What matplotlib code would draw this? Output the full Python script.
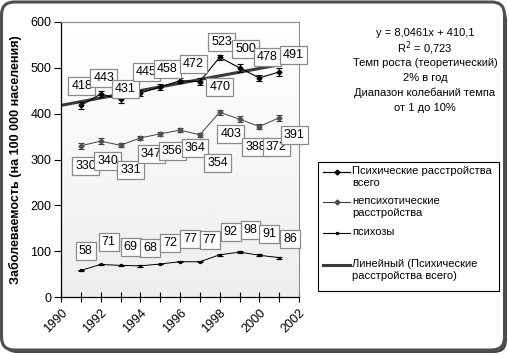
import numpy as np
import matplotlib
matplotlib.use('Agg')
import matplotlib.pylab as plt
from matplotlib.patches import FancyBboxPatch, Rectangle
from matplotlib.lines import Line2D
from matplotlib.transforms import IdentityTransform

plt.rcParams['font.family'] = ['Liberation Sans', 'DejaVu Sans']

# data (per 100 000 population)
years = [1991, 1992, 1993, 1994, 1995, 1996, 1997, 1998, 1999, 2000, 2001]
total = [418, 443, 431, 445, 458, 472, 470, 523, 500, 478, 491]
neurotic = [330, 340, 331, 347, 356, 364, 354, 403, 388, 372, 391]
psychoses = [58, 71, 69, 68, 72, 77, 77, 92, 98, 91, 86]
total_err = [8, 6, 7, 6, 6, 6, 7, 6, 9, 7, 8]
neurotic_err = [6, 6, 4, 5, 5, 5, 4, 5, 6, 5, 6]
psychoses_err = [2, 1, 1, 2, 1, 1, 1, 2, 3, 2, 2]
trend_years = [1990, 2001]
slope, intercept = 8.0461, 410.1

legend_labels = ['Психические расстройства\nвсего',
                 'непсихотические\nрасстройства',
                 'психозы',
                 'Линейный (Психические\nрасстройства всего)']
info_lines = ['y = 8,0461x + 410,1', 'R$^2$ = 0,723',
              'Темп роста (теоретический)', '2% в год',
              'Диапазон колебаний темпа', 'от 1 до 10%']

# label offsets in pixels (dx, dy up)
total_off = [(1, 19), (3, 16), (5, 10), (6, 21), (7, 18), (13, 17), (20, -5),
             (2, 15), (6, 19), (8, 21), (14, 17)]
neuro_off = [(5, -20), (7, -20), (10, -25), (11, -16), (12, -17), (15, -18),
             (18, -28), (11, -22), (16, -28), (17, -20), (15, -17)]
psy_off = [(5, 19), (8, 22), (10, 18), (10, 18), (10, 21), (10, 23), (10, 22),
           (11, 23), (11, 22), (10, 21), (11, 19)]

W, H = 509, 355
fig = plt.figure(figsize=(W/100, H/100), dpi=100)

def fx(x):
    return x/W

def fy(y):
    return 1 - y/H

# outer rounded frame with shadow
fig.patches.append(FancyBboxPatch((4, 2), 503, 346, boxstyle='round,pad=0,rounding_size=13',
                                  fc='#474747', ec='none', transform=IdentityTransform(), zorder=-3))
fig.patches.append(FancyBboxPatch((1.5, 5), 503, 348, boxstyle='round,pad=0,rounding_size=13',
                                  fc='white', ec='#4f4f4f', lw=2.2, transform=IdentityTransform(), zorder=-2))

ax = fig.add_axes([fx(61), fy(297), fx(238), 275/H])

# gradient background of the plot area
grad = np.linspace(0.93, 1.0, 100)[:, None]
ax.imshow(grad, extent=[0, 1, 0, 1], transform=ax.transAxes, aspect='auto',
          cmap='gray', vmin=0, vmax=1, origin='lower', zorder=0)

# trend line
tx = np.array(trend_years)
ax.plot(tx, intercept + slope*(tx - 1989), color='#3a3a3a', lw=2.2, zorder=2)

ax.errorbar(years, total, yerr=total_err, color='black', lw=0.8, marker='D', ms=2.5,
            capsize=2.5, elinewidth=0.8, capthick=0.8, zorder=3)
ax.errorbar(years, neurotic, yerr=neurotic_err, color='#404040', lw=0.7, marker='D', ms=2.5,
            mfc='#505050', mec='#505050', capsize=2.5, elinewidth=0.7, capthick=0.8, zorder=3)
ax.errorbar(years, psychoses, yerr=psychoses_err, color='black', lw=0.7, marker='s', ms=1.3,
            capsize=2.5, elinewidth=0.7, capthick=0.8, zorder=3)

box = dict(boxstyle='square,pad=0.24', fc='white', ec='#8a8a8a', lw=0.9)
for vals, offs in [(total, total_off), (neurotic, neuro_off), (psychoses, psy_off)]:
    for yr, v, (dx, dy) in zip(years, vals, offs):
        ax.annotate(str(v), (yr, v), xytext=(dx, dy), textcoords='offset pixels',
                    ha='center', va='center', fontsize=9, bbox=box, zorder=5,
                    annotation_clip=False)

ax.set_xlim(1990, 2002)
ax.set_ylim(0, 600)
ax.set_yticks(np.arange(0, 601, 100))
ax.set_xticks(np.arange(1990, 2003, 1), minor=True)
ax.set_xticks(np.arange(1990, 2003, 2))
ax.tick_params(axis='y', direction='out', length=5, width=0.8, labelsize=9, pad=2)
ax.tick_params(axis='x', which='both', direction='inout', length=7, width=0.8, labelsize=9)
plt.setp(ax.get_xticklabels(), rotation=45, ha='right', va='top', rotation_mode='anchor')
for s in ['top', 'right']:
    ax.spines[s].set_color('#8c8c8c')
    ax.spines[s].set_linewidth(0.8)
for s in ['left', 'bottom']:
    ax.spines[s].set_linewidth(0.9)
ax.set_ylabel('Заболеваемость (на 100 000 населения)', fontsize=9, fontweight='bold', labelpad=6)

# trend info text
for i, t in enumerate(info_lines):
    fig.text(fx(425), fy(33 + 15*i), t, ha='center', va='center', fontsize=8)

# legend drawn by hand
fig.patches.append(Rectangle((fx(318), fy(291)), fx(181), 129/H, transform=fig.transFigure,
                             fc='white', ec='black', lw=0.8))
styles = [dict(color='black', lw=0.9, marker='D', ms=2.5),
          dict(color='#404040', lw=0.8, marker='D', ms=2.5, mfc='#505050', mec='#505050'),
          dict(color='black', lw=0.8, marker='s', ms=1.3),
          dict(color='#3a3a3a', lw=2.2)]
first_line = [172, 202, 233, 265]
for lab, st, yy in zip(legend_labels, styles, first_line):
    fig.add_artist(Line2D([fx(323), fx(336.5), fx(350)], [fy(yy)]*3, transform=fig.transFigure,
                          markevery=[1] if 'marker' in st else None, **st))
    fig.text(fx(352), fy(yy - 6), lab, ha='left', va='top', fontsize=8, linespacing=1.25)

fig.savefig('out.png', dpi=100)
